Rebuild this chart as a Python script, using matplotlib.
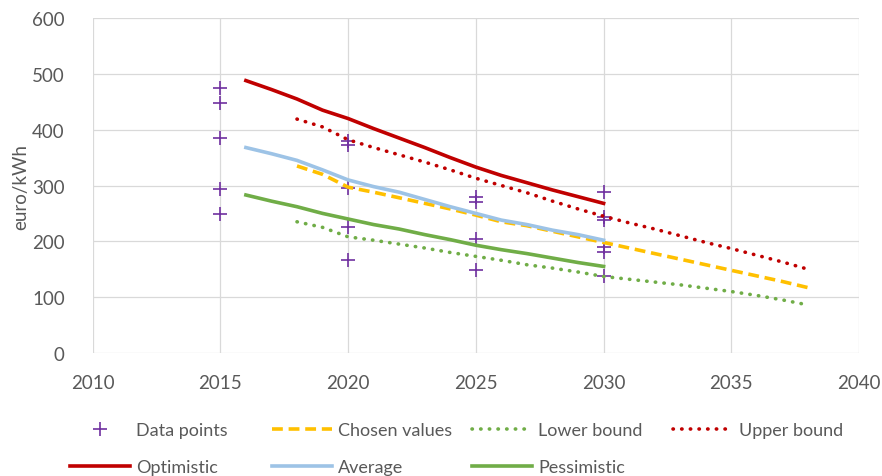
import matplotlib.pyplot as plt

plt.rcParams['font.family'] = ['Lato', 'DejaVu Sans']

# scattered data points
dp_years = [2015, 2015, 2015, 2015, 2015,
            2020, 2020, 2020, 2020, 2020,
            2025, 2025, 2025, 2025,
            2030, 2030, 2030, 2030, 2030, 2030]
dp_values = [475, 448, 385, 294, 249,
             380, 373, 296, 226, 167,
             280, 271, 204, 149,
             289, 244, 238, 190, 181, 138]

# scenario curves (2016-2030)
scen_years = list(range(2016, 2031))
optimistic = [488, 472, 455, 435, 420, 402, 385, 368, 350, 333, 318, 305, 292, 280, 268]
average = [368, 357, 345, 328, 310, 298, 288, 275, 262, 250, 238, 230, 220, 212, 202]
pessimistic = [283, 272, 262, 250, 240, 230, 222, 212, 203, 193, 185, 178, 170, 162, 155]

# projections (2018-2038)
proj_years = list(range(2018, 2039))
chosen = [335, 320, 297, 288, 278, 268, 258, 247, 235, 228, 218, 208, 198,
          188, 178, 168, 158, 148, 138, 128, 117]
lower = [235, 225, 208, 202, 195, 188, 180, 173, 166, 158, 152, 145, 137,
         132, 127, 122, 116, 110, 103, 95, 86]
upper = [419, 405, 382, 368, 355, 342, 328, 313, 300, 287, 272, 258, 245,
         233, 222, 210, 198, 187, 175, 163, 150]

fig = plt.figure(figsize=(8.82, 4.77), dpi=100)
ax = fig.add_axes([0.105, 0.258, 0.869, 0.702])

dots = (0, (0.1, 2.3))
h_dp, = ax.plot(dp_years, dp_values, linestyle='none', marker='+', markersize=10,
                markeredgewidth=1.2, color='#7030A0', label='Data points')
h_cv, = ax.plot(proj_years, chosen, color='#FFC000', lw=2.6, dashes=(3, 1.6),
                label='Chosen values')
h_lb, = ax.plot(proj_years, lower, color='#70AD47', lw=2.6, linestyle=dots,
                dash_capstyle='round', label='Lower bound')
h_ub, = ax.plot(proj_years, upper, color='#C00000', lw=2.6, linestyle=dots,
                dash_capstyle='round', label='Upper bound')
h_op, = ax.plot(scen_years, optimistic, color='#C00000', lw=2.6, label='Optimistic')
h_av, = ax.plot(scen_years, average, color='#9DC3E6', lw=2.6, label='Average')
h_pe, = ax.plot(scen_years, pessimistic, color='#70AD47', lw=2.6, label='Pessimistic')

ax.set_xlim(2010, 2040)
ax.set_ylim(0, 600)
ax.set_xticks(range(2010, 2041, 5))
ax.set_yticks(range(0, 601, 100))
ax.grid(True, color='#d9d9d9', lw=0.9)
ax.set_axisbelow(True)
for s in ax.spines.values():
    s.set_visible(False)
ax.tick_params(length=0, labelsize=13.5, colors='#595959')
ax.tick_params(axis='y', pad=20)
ax.tick_params(axis='x', pad=15)
ax.set_ylabel('euro/kWh', fontsize=13.5, color='#595959', labelpad=2)

# Excel-style legend: equal-width columns, built one column at a time
columns = [[h_dp, h_op], [h_cv, h_av], [h_lb, h_pe], [h_ub]]
col_x = [70, 272, 472, 673]
for hs, x in zip(columns, col_x):
    leg = fig.legend(handles=hs, loc='upper left',
                     bbox_to_anchor=(x / 882, 1 - 423 / 477), frameon=False,
                     fontsize=13, handlelength=3.3, handletextpad=0.35,
                     labelspacing=1.17, borderpad=0, borderaxespad=0)
    for t in leg.get_texts():
        t.set_color('#595959')

fig.savefig('out.png', dpi=100)
